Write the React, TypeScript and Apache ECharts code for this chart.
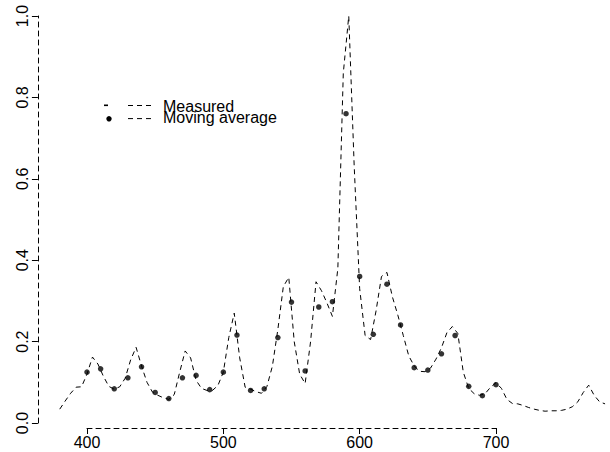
import { useEffect, useRef } from "react";
import * as echarts from "echarts";

// ---------- data ----------
const MEASURED_WL = [
  380, 384, 388, 392, 396, 400, 404, 408, 412, 416, 420, 424, 428, 432, 436, 440,
  444, 448, 452, 456, 460, 464, 468, 472, 476, 480, 484, 488, 492, 496, 500, 504,
  508, 512, 516, 520, 524, 528, 532, 536, 540, 544, 548, 552, 556, 560, 564, 568,
  572, 576, 580, 584, 588, 592, 596, 600, 604, 608, 612, 616, 620, 624, 628, 632,
  636, 640, 644, 648, 652, 656, 660, 664, 668, 672, 676, 680, 684, 688, 692, 696,
  700, 704, 708, 712, 716, 720, 724, 728, 732, 736, 740, 744, 748, 752, 756, 760,
  764, 768, 772, 776, 780,
];
const MEASURED = [
  0.034, 0.054, 0.073, 0.088, 0.089, 0.12, 0.162, 0.145, 0.115, 0.09, 0.083, 0.089, 0.11, 0.155, 0.186, 0.14,
  0.1, 0.076, 0.068, 0.062, 0.058, 0.07, 0.125, 0.177, 0.16, 0.105, 0.085, 0.08, 0.08, 0.092, 0.125, 0.21,
  0.27, 0.16, 0.088, 0.083, 0.077, 0.073, 0.09, 0.14, 0.23, 0.335, 0.358, 0.2, 0.12, 0.097, 0.2, 0.347,
  0.325, 0.295, 0.262, 0.38, 0.86, 1.0, 0.63, 0.33, 0.215, 0.205, 0.275, 0.36, 0.37, 0.31, 0.265, 0.215,
  0.165, 0.14, 0.127, 0.126, 0.135, 0.157, 0.185, 0.222, 0.237, 0.22, 0.125, 0.085, 0.072, 0.068, 0.072, 0.088,
  0.099, 0.085, 0.058, 0.048, 0.047, 0.043, 0.038, 0.034, 0.031, 0.029, 0.03, 0.03, 0.031, 0.034, 0.04, 0.052,
  0.075, 0.093, 0.068, 0.052, 0.047,
];
const MA_WL = [
  400, 410, 420, 430, 440, 450, 460, 470, 480, 490, 500, 510, 520, 530, 540, 550,
  560, 570, 580, 590, 600, 610, 620, 630, 640, 650, 660, 670, 680, 690, 700,
];
const MOVING_AVG = [
  0.125, 0.133, 0.084, 0.111, 0.138, 0.075, 0.06, 0.111, 0.117, 0.082, 0.125, 0.216, 0.08, 0.084, 0.21, 0.297,
  0.128, 0.285, 0.298, 0.76, 0.36, 0.218, 0.341, 0.241, 0.136, 0.13, 0.17, 0.215, 0.09, 0.067, 0.094,
];
const X_TICKS = [400, 500, 600, 700];
const Y_TICKS = [0, 0.2, 0.4, 0.6, 0.8, 1.0];
const LEGEND_LABELS = ["Measured", "Moving average"];

// ---------- layout ----------
const W = 610;
const H = 452;
const PX_X_FIRST = 87; // pixel of first x tick
const PX_X_LAST = 496; // pixel of last x tick
const PX_Y_ZERO = 423; // pixel of y = 0
const PX_Y_ONE = 16; // pixel of y = 1
const AXIS_Y_PX = 428; // x-axis line
const X_DATA_MIN = 364;
const FONT = "'Liberation Sans', Arial, Helvetica, sans-serif";
const DASH = [5, 4];
const LEGEND_ROW1 = 105.5;
const LEGEND_GAP = 11.8;

export default function App() {
  const ref = useRef<HTMLDivElement>(null);

  useEffect(() => {
    if (!ref.current) return;
    const chart = echarts.init(ref.current, null, { renderer: "svg", width: W, height: H });

    const xFirst = X_TICKS[0];
    const xLast = X_TICKS[X_TICKS.length - 1];
    const pxPerX = (PX_X_LAST - PX_X_FIRST) / (xLast - xFirst);
    const gridLeft = PX_X_FIRST - (xFirst - X_DATA_MIN) * pxPerX;
    const xDataMax = X_DATA_MIN + (W - gridLeft) / pxPerX;
    const yTop = Y_TICKS[Y_TICKS.length - 1];
    const pxPerY = (PX_Y_ZERO - PX_Y_ONE) / yTop;
    const yDataMax = PX_Y_ZERO / pxPerY;
    const yDataMin = -(AXIS_Y_PX - PX_Y_ZERO) / pxPerY;

    const axisLineStyle = { color: "#000", width: 1, type: DASH as any };
    const labelStyle = { color: "#000", fontSize: 16, fontFamily: FONT };
    const row2 = LEGEND_ROW1 + LEGEND_GAP;

    const option: any = {
      animation: false,
      backgroundColor: "#fff",
      grid: [
        { left: gridLeft, top: 0, width: W - gridLeft, height: AXIS_Y_PX },
        { left: PX_X_FIRST, top: 0, width: PX_X_LAST - PX_X_FIRST, height: AXIS_Y_PX },
        { left: gridLeft, top: PX_Y_ONE, width: 100, height: PX_Y_ZERO - PX_Y_ONE },
      ],
      xAxis: [
        { type: "value", gridIndex: 0, min: X_DATA_MIN, max: xDataMax, show: false, splitLine: { show: false } },
        {
          type: "value",
          gridIndex: 1,
          min: xFirst,
          max: xLast,
          interval: 100,
          axisLine: { show: true, lineStyle: axisLineStyle },
          axisTick: { show: true, length: 6, lineStyle: { color: "#000", width: 1 } },
          axisLabel: { ...labelStyle, margin: 6, showMinLabel: true, showMaxLabel: true },
          splitLine: { show: false },
        },
        { type: "value", gridIndex: 2, min: 0, max: 1, show: false, splitLine: { show: false } },
      ],
      yAxis: [
        { type: "value", gridIndex: 0, min: yDataMin, max: yDataMax, show: false, splitLine: { show: false } },
        { type: "value", gridIndex: 1, min: 0, max: 1, show: false, splitLine: { show: false } },
        {
          type: "value",
          gridIndex: 2,
          min: 0,
          max: yTop,
          interval: 0.2,
          axisLine: { show: true, lineStyle: axisLineStyle },
          axisTick: { show: true, length: 6, lineStyle: { color: "#000", width: 1 } },
          axisLabel: {
            ...labelStyle,
            rotate: 90,
            margin: 7,
            formatter: (v: number) => v.toFixed(1),
            showMinLabel: true,
            showMaxLabel: true,
          },
          splitLine: { show: false },
        },
      ],
      series: [
        {
          name: LEGEND_LABELS[0],
          type: "line",
          xAxisIndex: 0,
          yAxisIndex: 0,
          data: MEASURED_WL.map((w, i) => [w, MEASURED[i]]),
          showSymbol: false,
          symbol: "none",
          lineStyle: { color: "#000", width: 1, type: DASH },
        },
        {
          name: LEGEND_LABELS[1],
          type: "scatter",
          xAxisIndex: 0,
          yAxisIndex: 0,
          data: MA_WL.map((w, i) => [w, MOVING_AVG[i]]),
          symbol: "circle",
          symbolSize: 5.5,
          itemStyle: { color: "#000" },
        },
      ],
      graphic: [
        { type: "rect", shape: { x: 104, y: LEGEND_ROW1 - 1, width: 4, height: 1.6 }, style: { fill: "#000" } },
        {
          type: "line",
          shape: { x1: 128, y1: LEGEND_ROW1, x2: 152, y2: LEGEND_ROW1 },
          style: { stroke: "#000", lineWidth: 1, lineDash: DASH },
        },
        { type: "circle", shape: { cx: 109, cy: row2 + 1.5, r: 2.7 }, style: { fill: "#000" } },
        {
          type: "line",
          shape: { x1: 128, y1: row2 + 1.3, x2: 152, y2: row2 + 1.3 },
          style: { stroke: "#000", lineWidth: 1, lineDash: DASH },
        },
        {
          type: "text",
          x: 163,
          y: LEGEND_ROW1 + 0.5,
          style: { text: LEGEND_LABELS[0], fill: "#000", fontSize: 16, fontFamily: FONT, verticalAlign: "middle" },
        },
        {
          type: "text",
          x: 163,
          y: row2,
          style: { text: LEGEND_LABELS[1], fill: "#000", fontSize: 16, fontFamily: FONT, verticalAlign: "middle" },
        },
      ],
    };

    chart.setOption(option);
    return () => chart.dispose();
  }, []);

  return (
    <div
      ref={ref}
      style={{ position: "fixed", left: 0, top: 0, width: W, height: H, background: "#fff" }}
    />
  );
}
